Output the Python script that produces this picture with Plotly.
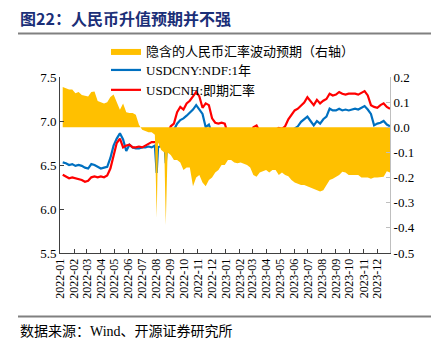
import pandas as pd
import plotly.graph_objects as go

# ---------------- data (weekly, Fridays from 2022-01-07) ----------------
week_dates = pd.date_range("2022-01-07", periods=104, freq="W-FRI")

cny_ndf_1y = [
    6.53, 6.52, 6.50, 6.51, 6.49, 6.50, 6.49, 6.47, 6.46, 6.51,
    6.50, 6.48, 6.46, 6.47, 6.48, 6.58, 6.72, 6.80, 6.86, 6.79,
    6.66, 6.73, 6.70, 6.69, 6.69, 6.70, 6.70, 6.71, 6.70, 6.72,
    6.70, 6.72, 6.75, 6.80, 6.86, 6.90, 6.97, 7.01, 7.03, 7.06,
    7.09, 7.13, 7.18, 7.13, 7.08, 6.93, 6.96, 6.85, 6.82, 6.81,
    6.80, 6.79, 6.70, 6.63, 6.61, 6.62, 6.61, 6.62, 6.63, 6.70,
    6.77, 6.81, 6.75, 6.78, 6.76, 6.78, 6.77, 6.78, 6.80, 6.78,
    6.82, 6.87, 6.89, 6.92, 6.94, 6.99, 7.02, 7.05, 7.00, 6.95,
    7.00, 6.97, 7.02, 7.05, 7.14, 7.12, 7.12, 7.14, 7.12, 7.13,
    7.12, 7.13, 7.14, 7.13, 7.15, 7.17, 7.13, 7.08, 6.95, 6.97,
    6.98, 7.00, 6.96, 6.94,
]

cnh_spot = [
    6.39, 6.37, 6.35, 6.36, 6.35, 6.34, 6.33, 6.31, 6.32, 6.36,
    6.37, 6.36, 6.37, 6.36, 6.38, 6.46, 6.62, 6.75, 6.80, 6.70,
    6.72, 6.73, 6.70, 6.70, 6.71, 6.70, 6.72, 6.74, 6.76, 6.76,
    6.77, 6.76, 6.80, 6.86, 6.94, 6.97, 7.10, 7.16, 7.13, 7.20,
    7.23, 7.28, 7.33, 7.28, 7.15, 7.20, 7.18, 7.03, 6.98, 6.97,
    6.98, 6.97, 6.85, 6.76, 6.73, 6.74, 6.73, 6.74, 6.76, 6.84,
    6.93, 6.95, 6.88, 6.89, 6.88, 6.90, 6.89, 6.90, 6.92, 6.91,
    6.94, 7.02, 7.07, 7.12, 7.14, 7.18, 7.21, 7.27, 7.22, 7.18,
    7.24, 7.20, 7.23, 7.25, 7.31, 7.29, 7.30, 7.33, 7.31, 7.30,
    7.31, 7.31, 7.31, 7.30, 7.32, 7.34, 7.29, 7.18, 7.16, 7.15,
    7.18, 7.20, 7.16, 7.14,
]

implied_vol_exp = [
    0.160, 0.155, 0.150, 0.150, 0.135, 0.140, 0.128, 0.125, 0.122, 0.140,
    0.142, 0.105, 0.100, 0.095, 0.100, 0.120, 0.130, 0.100, 0.070, 0.095,
    0.060, 0.057, 0.057, 0.050, 0.010, -0.010, -0.015, -0.020, -0.020, -0.030,
    -0.060, -0.090, -0.100, -0.100, -0.110, -0.130, -0.130, -0.140, -0.170, -0.160,
    -0.160, -0.235, -0.200, -0.190, -0.220, -0.235, -0.210, -0.200, -0.180, -0.170,
    -0.150, -0.150, -0.130, -0.130, -0.140, -0.143, -0.140, -0.145, -0.150, -0.160,
    -0.190, -0.197, -0.180, -0.175, -0.170, -0.180, -0.170, -0.170, -0.190, -0.180,
    -0.190, -0.195, -0.210, -0.220, -0.225, -0.230, -0.230, -0.235, -0.240, -0.245,
    -0.250, -0.255, -0.250, -0.230, -0.210, -0.205, -0.197, -0.190, -0.177, -0.180,
    -0.190, -0.190, -0.190, -0.190, -0.200, -0.200, -0.200, -0.205, -0.200, -0.200,
    -0.200, -0.197, -0.175, -0.180,
]

# isolated daily outliers visible in August 2022
spike_dates = ["2022-08-02", "2022-08-22"]
spike_cny = [6.41, 6.52]
spike_vol = [-0.360, -0.390]

month_ticks = pd.date_range("2022-01-01", "2023-12-01", freq="MS")
month_labels = [d.strftime("%Y-%m") for d in month_ticks]
left_ticks = [5.5, 6.0, 6.5, 7.0, 7.5]
right_ticks = [-0.5, -0.4, -0.3, -0.2, -0.1, 0.0, 0.1, 0.2]
right_labels = ["-0.5", "-0.4", "-0.3", "-0.2", "-0.1", "0.0", "0.1", "0.2"]

# ---------------- assemble series ----------------
df_w = pd.DataFrame({"date": week_dates, "cny": cny_ndf_1y, "cnh": cnh_spot,
                     "vol": implied_vol_exp})
df_s = pd.DataFrame({"date": pd.to_datetime(spike_dates), "cny": spike_cny,
                     "vol": spike_vol})
df_cv = pd.concat([df_w[["date", "cny", "vol"]], df_s]).sort_values("date")

# ---------------- figure ----------------
W, H = 439, 343
L, R, T, B = 60, 49, 77, 90
PW, PH = W - L - R, H - T - B


def xp(px):
    return (px - L) / PW


def yp(py):
    return (H - B - py) / PH


SERIF = "Liberation Serif, Noto Sans CJK SC, serif"

fig = go.Figure()
fig.add_trace(go.Scatter(
    x=df_cv["date"], y=df_cv["vol"], yaxis="y2", mode="lines",
    line=dict(width=0, color="#FFC000"), fill="tozeroy", fillcolor="#FFC000",
    name="隐含的人民币汇率波动预期（右轴）", legend="legend"))
fig.add_trace(go.Scatter(
    x=df_cv["date"], y=df_cv["cny"], mode="lines",
    line=dict(width=2.2, color="#0070C0"), name="USDCNY:NDF:1年",
    legend="legend2"))
fig.add_trace(go.Scatter(
    x=df_w["date"], y=df_w["cnh"], mode="lines",
    line=dict(width=2.2, color="#FF0000"), name="USDCNH:即期汇率",
    legend="legend2"))

axis_dark = "#404040"
leg_common = dict(xanchor="left", yanchor="top", bgcolor="rgba(0,0,0,0)",
                  font=dict(size=13, family=SERIF), tracegroupgap=0,
                  itemwidth=30)
fig.update_layout(
    width=W, height=H, margin=dict(l=L, r=R, t=T, b=B, pad=0),
    paper_bgcolor="white", plot_bgcolor="white",
    font=dict(family=SERIF, size=13, color="#000000"),
    showlegend=True,
    legend=dict(x=xp(106), y=yp(36), **leg_common),
    legend2=dict(x=xp(106), y=yp(55), **leg_common),
    xaxis=dict(type="date", range=["2022-01-01", "2023-12-29"],
               tickvals=list(month_ticks), ticktext=month_labels,
               tickangle=-90, ticks="inside", ticklen=4, tickcolor=axis_dark,
               showline=True, linecolor=axis_dark, linewidth=1,
               showgrid=False, zeroline=False,
               tickfont=dict(size=12, family=SERIF, color="#000000")),
    yaxis=dict(range=[5.5, 7.5], tickvals=left_ticks,
               ticktext=[f"{v:.1f}" for v in left_ticks],
               ticks="inside", ticklen=4, tickcolor=axis_dark,
               showline=True, linecolor=axis_dark, linewidth=1,
               showgrid=False, zeroline=False,
               tickfont=dict(size=13, family=SERIF, color="#000000")),
    yaxis2=dict(range=[-0.5, 0.2], overlaying="y", side="right",
                tickvals=right_ticks, ticktext=right_labels,
                ticks="inside", ticklen=4, tickcolor="#BFBFBF",
                showline=True, linecolor="#BFBFBF", linewidth=1,
                showgrid=False, zeroline=False,
                tickfont=dict(size=13, family=SERIF, color="#000000")),
)

# title, rules and source note
fig.add_annotation(xref="paper", yref="paper", x=xp(18), y=yp(18),
                   xanchor="left", yanchor="middle", showarrow=False,
                   text="<b>图22：人民币升值预期并不强</b>",
                   font=dict(size=16, color="#1B2F78",
                             family="Noto Sans CJK SC, Liberation Serif"))
fig.add_annotation(xref="paper", yref="paper", x=xp(18), y=yp(331),
                   xanchor="left", yanchor="middle", showarrow=False,
                   text="数据来源：Wind、开源证券研究所",
                   font=dict(size=14, color="#000000", family=SERIF))
for py in (33.5, 316.5):
    fig.add_shape(type="line", xref="paper", yref="paper",
                  x0=xp(18), x1=xp(431), y0=yp(py), y1=yp(py),
                  line=dict(color="#808080", width=2))

fig.write_html("out.html")
